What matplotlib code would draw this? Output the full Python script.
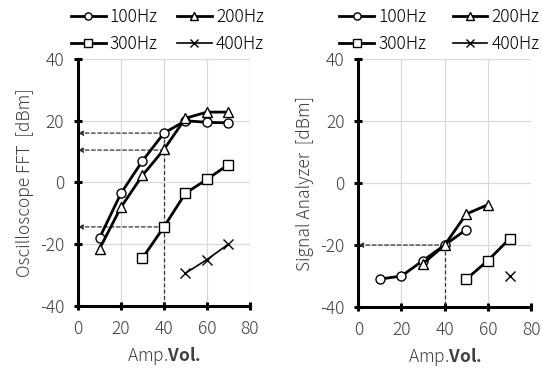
import matplotlib
matplotlib.use('Agg')
import matplotlib.pyplot as plt

plt.rcParams['font.family'] = ['Noto Sans CJK JP', 'DejaVu Sans']
plt.rcParams['axes.unicode_minus'] = False
plt.rcParams['mathtext.fontset'] = 'custom'
plt.rcParams['mathtext.rm'] = 'Noto Sans CJK JP'
plt.rcParams['mathtext.bf'] = 'Noto Sans CJK JP:bold'

amp = [10, 20, 30, 40, 50, 60, 70]
labels = ['100Hz', '200Hz', '300Hz', '400Hz']
markers = ['o', '^', 's', 'x']

# Oscilloscope FFT
osc_100 = [-18, -3.5, 7, 16, 20, 19.5, 19.3]
osc_200 = [-21.5, -8, 2.3, 10.7, 20.8, 22.8, 22.8]
osc_300_x = [30, 40, 50, 60, 70]
osc_300 = [-24.5, -14.4, -3.5, 1, 5.8]
osc_400_x = [50, 60, 70]
osc_400 = [-29.4, -25, -20]
osc_marks = [16, 10.5, -14.4]

# Signal Analyzer
sa_100_x = [10, 20, 30, 40, 50]
sa_100 = [-31, -30, -25, -20, -15]
sa_200_x = [30, 40, 50, 60]
sa_200 = [-26, -20, -10, -7]
sa_300_x = [50, 60, 70]
sa_300 = [-31, -25, -18]
sa_400_x = [70]
sa_400 = [-30]
sa_marks = [-20]

FS = 12.5


def draw(ax, series, marks, ylabel, leg_x, colspace):
    handles = []
    for (xs, ys), lab, m in zip(series, labels, markers):
        lw = 1.2 if lab == '400Hz' else 2.0
        h, = ax.plot(xs, ys, color='black', lw=lw, marker=m, markersize=6.5,
                     markerfacecolor='white', markeredgecolor='black',
                     markeredgewidth=1.0, label=lab, zorder=3)
        handles.append(h)
    for yv in marks:
        ax.annotate('', xy=(0, yv), xytext=(40, yv),
                    arrowprops=dict(arrowstyle='-|>', color='#333333',
                                    lw=0.9, ls=(0, (3, 2)),
                                    shrinkA=0, shrinkB=0,
                                    mutation_scale=7), zorder=2)
    ax.plot([40, 40], [max(marks), -40], color='#333333', lw=0.9,
            ls=(0, (3, 2)), zorder=2)
    ax.set_xlim(0, 80)
    ax.set_ylim(-40, 40)
    ax.set_xticks([0, 20, 40, 60, 80])
    ax.set_yticks([-40, -20, 0, 20, 40])
    ax.grid(True, color='#d9d9d9', lw=0.9)
    ax.set_axisbelow(True)
    for s in ['top', 'right']:
        ax.spines[s].set_visible(False)
    for s in ['left', 'bottom']:
        ax.spines[s].set_linewidth(2.2)
    ax.tick_params(direction='inout', length=6, width=2.2, labelsize=FS,
                   colors='black', labelcolor='#404040', pad=7)
    for t in ax.get_xticklabels() + ax.get_yticklabels():
        t.set_fontweight('light')
    ax.set_xlabel('Amp.$\\mathbf{Vol.}$', fontsize=FS, color='#404040',
                  fontweight='light', labelpad=5)
    ax.set_ylabel(ylabel, fontsize=FS, color='#404040', labelpad=4,
                  fontweight='light')
    order = [0, 2, 1, 3]
    leg = ax.legend([handles[i] for i in order], [labels[i] for i in order],
                    ncol=2, loc='lower center', bbox_to_anchor=(leg_x, 0.995),
                    frameon=False, fontsize=FS, handlelength=2.0,
                    handletextpad=0.25, columnspacing=colspace,
                    labelspacing=0.55, borderaxespad=0.0, markerscale=0.8)
    for t in leg.get_texts():
        t.set_fontweight('light')


fig = plt.figure(figsize=(5.42, 3.69), dpi=100)
ax1 = fig.add_axes([0.144, 0.171, 0.317, 0.669])
ax2 = fig.add_axes([0.661, 0.168, 0.319, 0.672])

draw(ax1, [(amp, osc_100), (amp, osc_200), (osc_300_x, osc_300),
           (osc_400_x, osc_400)], osc_marks, 'Oscilloscope FFT  [dBm]',
     0.52, 1.1)
draw(ax2, [(sa_100_x, sa_100), (sa_200_x, sa_200), (sa_300_x, sa_300),
           (sa_400_x, sa_400)], sa_marks, 'Signal Analyzer  [dBm]',
     0.47, 1.5)

fig.savefig('out.png', dpi=100)
